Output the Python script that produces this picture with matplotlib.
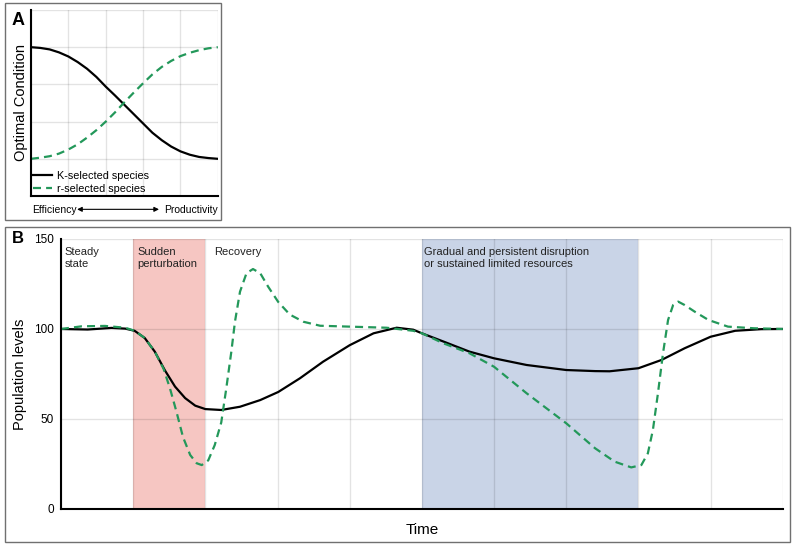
import matplotlib
matplotlib.use('Agg')
import matplotlib.pyplot as plt
from matplotlib.patches import Rectangle

plt.rcParams['font.family'] = ['Liberation Sans', 'DejaVu Sans']

GREEN = '#23985a'
PINK = '#f6c6c2'
BLUE = '#c9d4e7'

# panel A: optimal condition along efficiency -> productivity
a_x = [0, 0.25, 0.5, 0.75, 1.0, 1.25, 1.5, 1.75, 2.0, 2.25, 2.5, 2.75, 3.0,
       3.25, 3.5, 3.75, 4.0, 4.25, 4.5, 4.75, 5.0]
a_K = [4.0, 3.98, 3.94, 3.86, 3.75, 3.6, 3.42, 3.2, 2.94, 2.7, 2.45, 2.2, 1.95,
       1.7, 1.5, 1.33, 1.2, 1.11, 1.05, 1.02, 1.0]
a_r = [1.0, 1.03, 1.07, 1.14, 1.25, 1.39, 1.57, 1.77, 2.0, 2.25, 2.52, 2.78, 3.03,
       3.27, 3.47, 3.63, 3.76, 3.85, 3.92, 3.97, 4.0]

# panel B: population levels over time
b_kx = [0, 0.37, 0.7, 0.89, 1.02, 1.16, 1.3, 1.44, 1.58, 1.72, 1.86, 2.0, 2.22,
        2.48, 2.76, 3.01, 3.31, 3.63, 4.0, 4.33, 4.65, 4.88, 5.0, 5.3, 5.66, 6.0,
        6.45, 7.0, 7.4, 7.6, 8.0, 8.32, 8.64, 9.0, 9.34, 9.7, 10]
b_ky = [100, 99.7, 100.6, 100.2, 99, 95, 87.4, 77, 68, 61.6, 57.4, 55.5, 55,
        56.8, 60.5, 65, 72.6, 81.8, 91, 97.6, 100.7, 99.6, 97.6, 93, 87.4, 83.7,
        80, 77.2, 76.6, 76.5, 78.2, 82.8, 89.3, 95.7, 99, 99.9, 100]
b_rx = [0, 0.29, 0.61, 0.89, 1.02, 1.16, 1.3, 1.42, 1.51, 1.6, 1.69, 1.79, 1.88,
        1.95, 2.04, 2.13, 2.22, 2.29, 2.36, 2.41, 2.48, 2.57, 2.66, 2.76, 2.87,
        3.01, 3.17, 3.36, 3.59, 4.0, 4.51, 4.88, 5.0, 5.3, 5.66, 6.0, 6.45, 7.0,
        7.4, 7.67, 7.9, 8.04, 8.13, 8.2, 8.27, 8.34, 8.41, 8.48, 8.55, 8.64, 8.78,
        8.97, 9.24, 9.6, 10]
b_ry = [100, 101.5, 101.7, 100.7, 99, 95, 87.4, 78, 67, 54, 40, 30, 25.4,
        24.4, 27, 35.5, 48, 67, 87.4, 104, 120.7, 131, 133.3, 131, 123.5,
        115, 108, 104, 101.8, 101.3, 100.7, 99, 97.6, 92, 86.5, 79, 64.3, 47.6,
        33.7, 26.3, 23.1, 24.4, 30.9, 43.9, 64.3, 86.5, 105, 113.3, 115.2, 113.3, 109.6,
        105, 101.3, 100.4, 100]

phases = ['Steady\nstate', 'Sudden\nperturbation', 'Recovery',
          'Gradual and persistent disruption\nor sustained limited resources']
phase_x = [0, 1, 2, 5]
phase_off = [0.05, 0.06, 0.12, 0.03]

fig = plt.figure(figsize=(7.95, 5.48), dpi=100)

# panel frames
fig.patches.append(Rectangle((0.0063, 0.5985), 0.2717, 0.396, transform=fig.transFigure,
                             fill=False, edgecolor='#707070', lw=1.0))
fig.patches.append(Rectangle((0.0063, 0.0109), 0.9874, 0.5748, transform=fig.transFigure,
                             fill=False, edgecolor='#707070', lw=1.0))

# ---- panel A
axA = fig.add_axes([0.039, 0.6423, 0.235, 0.3395])
axA.set_xlim(0, 5)
axA.set_ylim(0, 5)
axA.set_xticks(range(6))
axA.set_yticks(range(6))
axA.grid(True, color='black', alpha=0.11, lw=1.0)
axA.tick_params(length=0, labelbottom=False, labelleft=False)
for s in ['top', 'right']:
    axA.spines[s].set_visible(False)
for s in ['left', 'bottom']:
    axA.spines[s].set_linewidth(1.5)
axA.plot(a_x, a_K, color='black', lw=1.6, label='K-selected species')
axA.plot(a_x, a_r, color=GREEN, lw=1.6, ls=(0, (3.6, 2.3)), label='r-selected species')
axA.legend(loc='lower left', frameon=False, fontsize=7.8, handlelength=1.75,
           borderaxespad=0.0, borderpad=0.2, labelspacing=0.25, handletextpad=0.45)
axA.set_ylabel('Optimal Condition', fontsize=10.5, labelpad=2)
fig.text(0.04, 0.617, 'Efficiency', fontsize=7.5, ha='left', va='center')
fig.text(0.274, 0.617, 'Productivity', fontsize=7.5, ha='right', va='center')
axA.annotate('', xy=(0.2, 0.618), xytext=(0.097, 0.618), xycoords='figure fraction',
             arrowprops=dict(arrowstyle='<|-|>', color='black', lw=0.8,
                             mutation_scale=7, shrinkA=0, shrinkB=0))
fig.text(0.015, 0.963, 'A', fontsize=13, fontweight='bold', va='center')

# ---- panel B
axB = fig.add_axes([0.0767, 0.0712, 0.908, 0.4927])
axB.set_xlim(0, 10)
axB.set_ylim(0, 150)
axB.set_xticks(range(11))
axB.set_yticks([0, 50, 100, 150])
axB.axvspan(1, 2, color=PINK, lw=0, zorder=0.3)
axB.axvspan(5, 8, color=BLUE, lw=0, zorder=0.3)
axB.set_axisbelow(True)
axB.grid(True, color='black', alpha=0.11, lw=1.0)
axB.tick_params(length=0, labelbottom=False, labelsize=8.5, pad=5)
for s in ['top', 'right']:
    axB.spines[s].set_visible(False)
for s in ['left', 'bottom']:
    axB.spines[s].set_linewidth(1.5)
axB.plot(b_kx, b_ky, color='black', lw=1.6)
axB.plot(b_rx, b_ry, color=GREEN, lw=1.6, ls=(0, (3.6, 2.3)))
for x, off, t in zip(phase_x, phase_off, phases):
    axB.text(x + off, 145.5, t, fontsize=8, va='top', ha='left', color='#222222',
             linespacing=1.25)
axB.set_ylabel('Population levels', fontsize=10.5, labelpad=5)
axB.set_xlabel('Time', fontsize=11, labelpad=10)
fig.text(0.015, 0.564, 'B', fontsize=12, fontweight='bold', va='center')

fig.savefig('out.png', dpi=100)
